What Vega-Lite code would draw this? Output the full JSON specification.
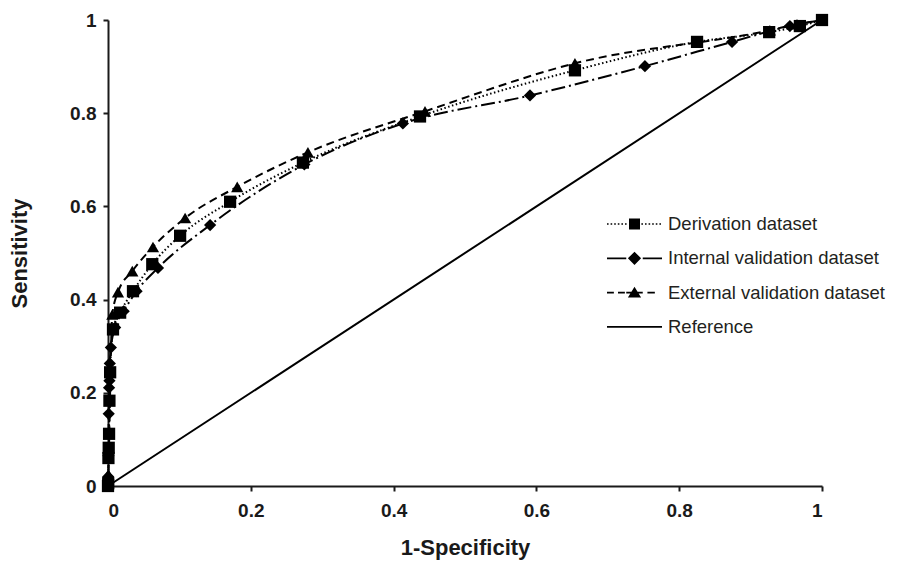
{
  "$schema": "https://vega.github.io/schema/vega-lite/v6.json",
  "autosize": {"type": "none"},
  "width": 714,
  "height": 466,
  "padding": {"left": 108, "top": 20, "right": 75, "bottom": 75},
  "background": "white",
  "config": {
    "view": {"stroke": null},
    "font": "Liberation Sans",
    "axis": {
      "grid": false,
      "domainColor": "#1a1a1a",
      "domainWidth": 2,
      "tickColor": "#1a1a1a",
      "tickWidth": 2,
      "tickSize": 5,
      "labelFont": "Liberation Sans",
      "labelFontWeight": "bold",
      "labelFontSize": 19,
      "labelColor": "#1a1a1a",
      "titleFont": "Liberation Sans",
      "titleFontWeight": "bold",
      "titleFontSize": 22,
      "titleColor": "#1a1a1a"
    },
    "legend": {
      "labelFont": "Liberation Sans",
      "labelFontSize": 18.5,
      "labelColor": "#231f20",
      "labelLimit": 400,
      "symbolFillColor": "black",
      "symbolStrokeWidth": 0,
      "symbolOpacity": 1
    }
  },
  "datasets": {
    "roc": [
      {"series": "Derivation dataset", "fpr": 0, "tpr": 0},
      {"series": "Derivation dataset", "fpr": 0.0003, "tpr": 0.006},
      {"series": "Derivation dataset", "fpr": 0.0006, "tpr": 0.06},
      {"series": "Derivation dataset", "fpr": 0.001, "tpr": 0.082},
      {"series": "Derivation dataset", "fpr": 0.0015, "tpr": 0.112},
      {"series": "Derivation dataset", "fpr": 0.002, "tpr": 0.183},
      {"series": "Derivation dataset", "fpr": 0.003, "tpr": 0.244},
      {"series": "Derivation dataset", "fpr": 0.007, "tpr": 0.336},
      {"series": "Derivation dataset", "fpr": 0.017, "tpr": 0.372},
      {"series": "Derivation dataset", "fpr": 0.035, "tpr": 0.418},
      {"series": "Derivation dataset", "fpr": 0.062, "tpr": 0.476},
      {"series": "Derivation dataset", "fpr": 0.101, "tpr": 0.537},
      {"series": "Derivation dataset", "fpr": 0.171, "tpr": 0.61},
      {"series": "Derivation dataset", "fpr": 0.273, "tpr": 0.694},
      {"series": "Derivation dataset", "fpr": 0.437, "tpr": 0.793},
      {"series": "Derivation dataset", "fpr": 0.654, "tpr": 0.892},
      {"series": "Derivation dataset", "fpr": 0.825, "tpr": 0.953},
      {"series": "Derivation dataset", "fpr": 0.926, "tpr": 0.974},
      {"series": "Derivation dataset", "fpr": 0.969, "tpr": 0.987},
      {"series": "Derivation dataset", "fpr": 1, "tpr": 1},
      {"series": "Internal validation dataset", "fpr": 0, "tpr": 0},
      {"series": "Internal validation dataset", "fpr": 0.0003, "tpr": 0.02},
      {"series": "Internal validation dataset", "fpr": 0.0006, "tpr": 0.065},
      {"series": "Internal validation dataset", "fpr": 0.001, "tpr": 0.155},
      {"series": "Internal validation dataset", "fpr": 0.0015, "tpr": 0.211},
      {"series": "Internal validation dataset", "fpr": 0.002, "tpr": 0.226},
      {"series": "Internal validation dataset", "fpr": 0.0025, "tpr": 0.263},
      {"series": "Internal validation dataset", "fpr": 0.004, "tpr": 0.297},
      {"series": "Internal validation dataset", "fpr": 0.01, "tpr": 0.34},
      {"series": "Internal validation dataset", "fpr": 0.022, "tpr": 0.375},
      {"series": "Internal validation dataset", "fpr": 0.04, "tpr": 0.418},
      {"series": "Internal validation dataset", "fpr": 0.07, "tpr": 0.468},
      {"series": "Internal validation dataset", "fpr": 0.143, "tpr": 0.56},
      {"series": "Internal validation dataset", "fpr": 0.275, "tpr": 0.69},
      {"series": "Internal validation dataset", "fpr": 0.413, "tpr": 0.778},
      {"series": "Internal validation dataset", "fpr": 0.591, "tpr": 0.838},
      {"series": "Internal validation dataset", "fpr": 0.752, "tpr": 0.901},
      {"series": "Internal validation dataset", "fpr": 0.874, "tpr": 0.953},
      {"series": "Internal validation dataset", "fpr": 0.955, "tpr": 0.987},
      {"series": "Internal validation dataset", "fpr": 1, "tpr": 1},
      {"series": "External validation dataset", "fpr": 0, "tpr": 0},
      {"series": "External validation dataset", "fpr": 0.0005, "tpr": 0.025},
      {"series": "External validation dataset", "fpr": 0.006, "tpr": 0.368},
      {"series": "External validation dataset", "fpr": 0.014, "tpr": 0.416},
      {"series": "External validation dataset", "fpr": 0.034, "tpr": 0.461},
      {"series": "External validation dataset", "fpr": 0.063, "tpr": 0.513},
      {"series": "External validation dataset", "fpr": 0.108, "tpr": 0.575},
      {"series": "External validation dataset", "fpr": 0.181, "tpr": 0.642},
      {"series": "External validation dataset", "fpr": 0.28, "tpr": 0.716},
      {"series": "External validation dataset", "fpr": 0.444, "tpr": 0.804},
      {"series": "External validation dataset", "fpr": 0.654, "tpr": 0.907},
      {"series": "External validation dataset", "fpr": 0.927, "tpr": 0.978},
      {"series": "External validation dataset", "fpr": 0.965, "tpr": 0.991},
      {"series": "External validation dataset", "fpr": 1, "tpr": 1},
      {"series": "Reference", "fpr": 0, "tpr": 0},
      {"series": "Reference", "fpr": 1, "tpr": 1}
    ]
  },
  "data": {"name": "roc"},
  "encoding": {
    "x": {
      "field": "fpr", "type": "quantitative",
      "scale": {"domain": [0, 1], "nice": false},
      "axis": {"title": "1-Specificity", "values": [0, 0.2, 0.4, 0.6, 0.8, 1], "format": "~g", "labelPadding": 10, "titlePadding": 17}
    },
    "y": {
      "field": "tpr", "type": "quantitative",
      "scale": {"domain": [0, 1], "nice": false},
      "axis": {"title": "Sensitivity", "values": [0, 0.2, 0.4, 0.6, 0.8, 1], "format": "~g", "labelPadding": 7, "titlePadding": 38}
    }
  },
  "layer": [
    {
      "transform": [{"filter": "datum.series === 'Reference'"}],
      "mark": {"type": "line", "color": "black", "strokeWidth": 2}
    },
    {
      "transform": [{"filter": "datum.series === 'Derivation dataset'"}],
      "mark": {"type": "line", "color": "black", "strokeWidth": 2, "interpolate": "monotone", "strokeDash": [1.5, 2.5]}
    },
    {
      "transform": [{"filter": "datum.series === 'Internal validation dataset'"}],
      "mark": {"type": "line", "color": "black", "strokeWidth": 2, "interpolate": "monotone", "strokeDash": [14, 4, 2, 4]}
    },
    {
      "transform": [{"filter": "datum.series === 'External validation dataset'"}],
      "mark": {"type": "line", "color": "black", "strokeWidth": 2, "interpolate": "monotone", "strokeDash": [8, 5]}
    },
    {
      "transform": [{"filter": "datum.series === 'Derivation dataset'"}],
      "mark": {"type": "point", "shape": "square", "filled": true, "color": "black", "opacity": 1, "size": 150}
    },
    {
      "transform": [{"filter": "datum.series === 'Internal validation dataset'"}],
      "mark": {"type": "point", "shape": "diamond", "filled": true, "color": "black", "opacity": 1, "size": 150}
    },
    {
      "transform": [{"filter": "datum.series === 'External validation dataset'"}],
      "mark": {"type": "point", "shape": "triangle-up", "filled": true, "color": "black", "opacity": 1, "size": 150}
    },
    {
      "transform": [{"filter": "datum.series === 'Reference'"}],
      "mark": {"type": "point", "filled": true, "fill": "black", "strokeWidth": 0, "opacity": 0},
      "encoding": {
        "shape": {
          "field": "series", "type": "nominal",
          "scale": {
            "domain": ["Derivation dataset", "Internal validation dataset", "External validation dataset", "Reference"],
            "range": [
              "M-1,-0.029h0.058v0.058h-0.058zM-0.869,-0.029h0.058v0.058h-0.058zM-0.738,-0.029h0.058v0.058h-0.058zM-0.607,-0.029h0.058v0.058h-0.058zM-0.476,-0.029h0.058v0.058h-0.058zM-0.345,-0.029h0.058v0.058h-0.058zM0.25,-0.029h0.058v0.058h-0.058zM0.381,-0.029h0.058v0.058h-0.058zM0.512,-0.029h0.058v0.058h-0.058zM0.643,-0.029h0.058v0.058h-0.058zM0.774,-0.029h0.058v0.058h-0.058zM0.905,-0.029h0.058v0.058h-0.058zM-0.2,-0.2H0.2V0.2H-0.2Z",
              "M-1,-0.03H-0.3V0.03H-1ZM0.3,-0.03H1V0.03H0.3ZM0,-0.24L0.24,0L0,0.24L-0.24,0Z",
              "M-1,-0.03H-0.75V0.03H-1ZM-0.6,-0.03H-0.35V0.03H-0.6ZM0.47,-0.03H0.74V0.03H0.47ZM-0.3,-0.03H0.3V0.03H-0.3ZM0,-0.21L0.24,0.18L-0.24,0.18Z",
              "M-1,-0.03H1V0.03H-1Z"
            ]
          },
          "legend": {
            "title": null,
            "orient": "none",
            "legendX": 499,
            "legendY": 189,
            "padding": 0,
            "symbolSize": 3025,
            "symbolOpacity": 1,
            "symbolFillColor": "black",
            "symbolStrokeWidth": 0,
            "clipHeight": 30,
            "rowPadding": 4.3,
            "labelOffset": 6,
            "labelLimit": 400
          }
        }
      }
    }
  ]
}
